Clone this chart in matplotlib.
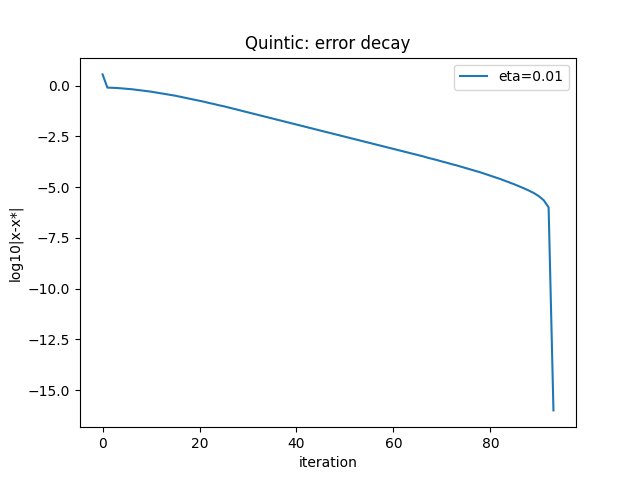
import matplotlib
matplotlib.use("Agg")
import matplotlib.pyplot as plt

# log10 error per iteration
log_err = [
    0.55,
    -0.10, -0.11, -0.12, -0.14, -0.16, -0.18, -0.21, -0.24, -0.27, -0.30,
    -0.34, -0.38, -0.42, -0.46, -0.50, -0.55, -0.60, -0.65, -0.70, -0.75,
    -0.80, -0.86, -0.91, -0.97, -1.02, -1.08, -1.14, -1.20, -1.26, -1.32,
    -1.38, -1.44, -1.50, -1.56, -1.62, -1.68, -1.74, -1.80, -1.86, -1.92,
    -1.98, -2.04, -2.10, -2.16, -2.22, -2.28, -2.34, -2.40, -2.46, -2.52,
    -2.58, -2.64, -2.70, -2.76, -2.82, -2.88, -2.94, -3.00, -3.06, -3.12,
    -3.18, -3.24, -3.30, -3.36, -3.42, -3.48, -3.55, -3.61, -3.67, -3.74,
    -3.80, -3.87, -3.93, -4.00, -4.07, -4.14, -4.21, -4.28, -4.36, -4.44,
    -4.52, -4.60, -4.69, -4.78, -4.87, -4.97, -5.07, -5.18, -5.30, -5.45,
    -5.65, -6.00, -16.00,
]
iterations = list(range(len(log_err)))

fig, ax = plt.subplots(figsize=(6.4, 4.8), dpi=100)
ax.plot(iterations, log_err, label="eta=0.01")
ax.set_title("Quintic: error decay")
ax.set_xlabel("iteration")
ax.set_ylabel("log10|x-x*|")
ax.legend()
fig.savefig("out.png")
